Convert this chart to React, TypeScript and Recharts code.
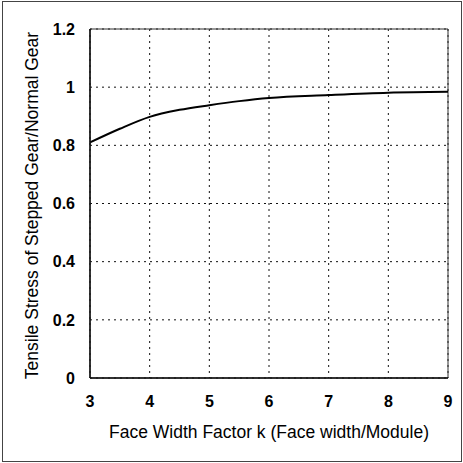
import { LineChart, Line, XAxis, YAxis, CartesianGrid, ReferenceArea, Label } from 'recharts';

const faceWidthFactor = [3, 3.5, 4, 4.5, 5, 5.5, 6, 7, 8, 9];
const stressRatio = [0.81, 0.857, 0.898, 0.922, 0.938, 0.952, 0.963, 0.973, 0.981, 0.984];
const xTicks = [3, 4, 5, 6, 7, 8, 9];
const yTicks = [0, 0.2, 0.4, 0.6, 0.8, 1, 1.2];

const data = faceWidthFactor.map((k, i) => ({ k, ratio: stressRatio[i] }));

const font = '"Liberation Sans", Arial, sans-serif';

export default function App() {
  return (
    <div style={{ position: 'absolute', left: 0, top: 0, width: 463, height: 463, background: '#fff' }}>
      <div
        style={{
          position: 'absolute',
          left: 2,
          top: 1,
          width: 458,
          height: 459,
          border: '1px solid #444',
        }}
      />
      <LineChart
        width={463}
        height={463}
        data={data}
        margin={{ top: 29, right: 15, bottom: 20, left: 0 }}
        style={{ fontFamily: font }}
      >
        <CartesianGrid stroke="#111" strokeDasharray="2 4" />
        <ReferenceArea x1={3} x2={9} y1={0} y2={1.2} fill="none" stroke="#333" strokeOpacity={1} />
        <XAxis
          dataKey="k"
          type="number"
          domain={[3, 9]}
          ticks={xTicks}
          height={65}
          tickLine={false}
          tickSize={0}
          tickMargin={18}
          axisLine={{ stroke: '#111', strokeWidth: 1.5 }}
          tick={{ fill: '#000', fontSize: 16, fontWeight: 'bold', fontFamily: font }}
        >
          <Label
            value="Face Width Factor k (Face width/Module)"
            position="insideBottom"
            offset={5}
            style={{ fill: '#000', fontSize: 17.5, fontFamily: font }}
          />
        </XAxis>
        <YAxis
          type="number"
          domain={[0, 1.2]}
          ticks={yTicks}
          width={90}
          tickLine={false}
          tickSize={0}
          tickMargin={15}
          axisLine={{ stroke: '#111', strokeWidth: 1.5 }}
          tick={{ fill: '#000', fontSize: 16, fontWeight: 'bold', fontFamily: font }}
        >
          <Label
            value="Tensile Stress of Stepped Gear/Normal Gear"
            angle={-90}
            position="center"
            dx={-13}
            dy={2}
            style={{ fill: '#000', fontSize: 17.5, fontFamily: font, textAnchor: 'middle' }}
          />
        </YAxis>
        <Line
          dataKey="ratio"
          type="monotone"
          stroke="#000"
          strokeWidth={2}
          dot={false}
          isAnimationActive={false}
        />
      </LineChart>
    </div>
  );
}
